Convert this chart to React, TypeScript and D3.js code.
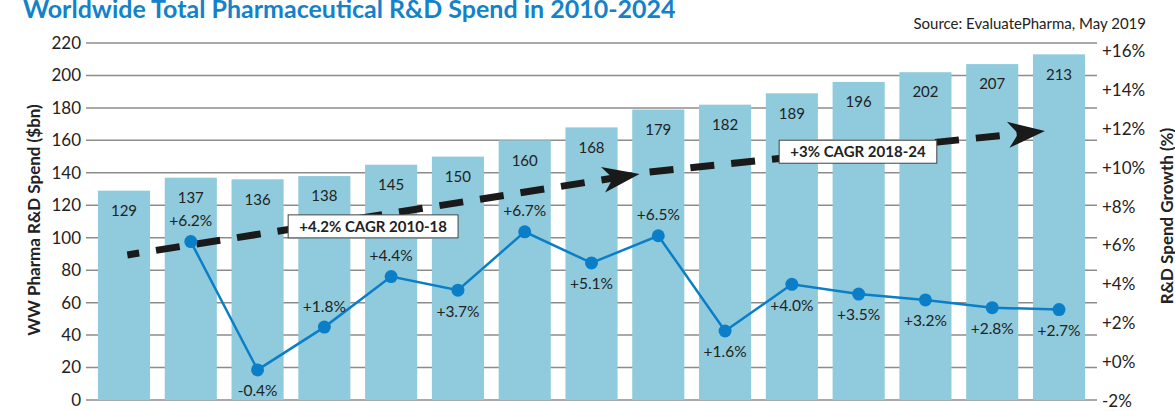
import { useEffect, useRef } from 'react'
import * as d3 from 'd3'

const WIDTH = 1175
const HEIGHT = 411
const FONT = 'Lato, "Open Sans", sans-serif'

const BAR_COLOR = '#8fcbdd'
const LINE_COLOR = '#0a7fc8'
const TITLE_COLOR = '#1382c9'
const GRID_COLOR = '#8c8c8c'
const TEXT_COLOR = '#222'

// Data
const years = [2010, 2011, 2012, 2013, 2014, 2015, 2016, 2017, 2018, 2019, 2020, 2021, 2022, 2023, 2024]
const spend = [129, 137, 136, 138, 145, 150, 160, 168, 179, 182, 189, 196, 202, 207, 213]
const growthYears = [2011, 2012, 2013, 2014, 2015, 2016, 2017, 2018, 2019, 2020, 2021, 2022, 2023, 2024]
const growth = [6.2, -0.4, 1.8, 4.4, 3.7, 6.7, 5.1, 6.5, 1.6, 4.0, 3.5, 3.2, 2.8, 2.7]
const growthLabelAbove = [true, false, true, true, false, true, false, true, false, false, false, false, false, false]

const spendTicks = [0, 20, 40, 60, 80, 100, 120, 140, 160, 180, 200, 220]
const growthTicks = [-2, 0, 2, 4, 6, 8, 10, 12, 14, 16]

// CAGR trend arrows (year, $bn) and their labels
const cagrLabels = ['+4.2% CAGR 2010-18', '+3% CAGR 2018-24']
const cagrStart = [[2010.05, 89.4], [2017.87, 140.5]]
const cagrEnd = [[2017.72, 139.3], [2023.79, 165.8]]
const cagrLabelAt = [[2013.73, 107], [2020.99, 153]]

function App() {
  const svgRef = useRef<SVGSVGElement | null>(null)

  useEffect(() => {
    if (!svgRef.current) return
    const svg = d3.select(svgRef.current)
    svg.selectAll('*').remove()

    const x = d3.scaleBand<number>()
      .domain(years)
      .range([90.6, 1092.4])
      .paddingInner(0.22)
      .paddingOuter(0.11)
    const bw = x.bandwidth()
    const xYear = d3.scaleLinear()
      .domain([2010, 2024])
      .range([x(2010)! + bw / 2, x(2024)! + bw / 2])

    const y = d3.scaleLinear().domain([0, 220]).range([400, 43])
    const yPct = d3.scaleLinear().domain([-2, 16]).range([401, 51])

    // Title + source
    svg.append('text')
      .attr('x', 23).attr('y', 18)
      .attr('font-family', FONT).attr('font-weight', 700).attr('font-size', 25)
      .attr('fill', TITLE_COLOR)
      .text('Worldwide Total Pharmaceutical R&D Spend in 2010-2024')

    svg.append('text')
      .attr('x', 1146).attr('y', 29)
      .attr('text-anchor', 'end')
      .attr('font-family', FONT).attr('font-size', 15)
      .attr('fill', TEXT_COLOR)
      .text('Source: EvaluatePharma, May 2019')

    // Gridlines (also act as tick marks on both sides)
    svg.append('g')
      .selectAll('line')
      .data(spendTicks)
      .join('line')
      .attr('x1', 86).attr('x2', 1097)
      .attr('y1', d => y(d)).attr('y2', d => y(d))
      .attr('stroke', GRID_COLOR)
      .attr('stroke-width', 1.5)

    // Left axis labels
    svg.append('g')
      .selectAll('text')
      .data(spendTicks)
      .join('text')
      .attr('x', 81).attr('y', d => y(d))
      .attr('dy', '0.35em')
      .attr('text-anchor', 'end')
      .attr('font-family', FONT).attr('font-size', 17)
      .attr('fill', TEXT_COLOR)
      .text(d => d)

    // Right axis labels
    svg.append('g')
      .selectAll('text')
      .data(growthTicks)
      .join('text')
      .attr('x', 1102).attr('y', d => yPct(d))
      .attr('dy', '0.35em')
      .attr('font-family', FONT).attr('font-size', 17)
      .attr('fill', TEXT_COLOR)
      .text(d => (d >= 0 ? '+' : '') + d + '%')

    // Axis titles
    svg.append('text')
      .attr('transform', 'translate(40, 220) rotate(-90)')
      .attr('text-anchor', 'middle')
      .attr('font-family', FONT).attr('font-weight', 700).attr('font-size', 17)
      .attr('fill', TEXT_COLOR)
      .text('WW Pharma R&D Spend ($bn)')

    svg.append('text')
      .attr('transform', 'translate(1173, 216) rotate(-90)')
      .attr('text-anchor', 'middle')
      .attr('font-family', FONT).attr('font-weight', 700).attr('font-size', 17)
      .attr('fill', TEXT_COLOR)
      .text('R&D Spend Growth (%)')

    // Bars
    svg.append('g')
      .selectAll('rect')
      .data(spend)
      .join('rect')
      .attr('x', (_, i) => x(years[i])!)
      .attr('y', d => y(d))
      .attr('width', bw)
      .attr('height', d => y(0) - y(d))
      .attr('fill', BAR_COLOR)

    svg.append('g')
      .selectAll('text')
      .data(spend)
      .join('text')
      .attr('x', (_, i) => x(years[i])! + bw / 2)
      .attr('y', d => y(d) + 20)
      .attr('dy', '0.35em')
      .attr('text-anchor', 'middle')
      .attr('font-family', FONT).attr('font-size', 15)
      .attr('fill', TEXT_COLOR)
      .text(d => d)

    // CAGR dashed arrows
    const cagr = svg.append('g')
    cagrStart.forEach((s, i) => {
      const e = cagrEnd[i]
      const x0 = xYear(s[0]), y0 = y(s[1])
      const x1 = xYear(e[0]), y1 = y(e[1])
      const angle = Math.atan2(y1 - y0, x1 - x0)
      const back = 26
      cagr.append('line')
        .attr('x1', x0).attr('y1', y0)
        .attr('x2', x1 - Math.cos(angle) * back)
        .attr('y2', y1 - Math.sin(angle) * back)
        .attr('stroke', '#1a1a1a')
        .attr('stroke-width', 7)
        .attr('stroke-dasharray', '24 17')
        .attr('stroke-dashoffset', i === 0 ? 12 : 0)
      cagr.append('path')
        .attr('d', 'M0,0 L-37,-13 L-27,0 L-37,13 Z')
        .attr('transform', `translate(${x1},${y1}) rotate(${(angle * 180) / Math.PI})`)
        .attr('fill', '#1a1a1a')
    })

    cagrLabels.forEach((label, i) => {
      const [yr, v] = cagrLabelAt[i]
      const g = cagr.append('g')
        .attr('transform', `translate(${xYear(yr)},${y(v)})`)
      const rect = g.append('rect').attr('fill', '#fff').attr('stroke', '#444').attr('stroke-width', 1)
      const t = g.append('text')
        .attr('text-anchor', 'middle')
        .attr('dy', '0.35em')
        .attr('font-family', FONT).attr('font-weight', 700).attr('font-size', 15)
        .attr('fill', TEXT_COLOR)
        .text(label)
      const bb = (t.node() as SVGTextElement).getBBox()
      const w = bb.width + 22
      rect.attr('x', -w / 2).attr('y', -11.5).attr('width', w).attr('height', 23)
    })

    // Growth line
    const line = d3.line<number>()
      .x((_, i) => xYear(growthYears[i]))
      .y(d => yPct(d))

    svg.append('path')
      .datum(growth)
      .attr('d', line)
      .attr('fill', 'none')
      .attr('stroke', LINE_COLOR)
      .attr('stroke-width', 2.5)

    svg.append('g')
      .selectAll('circle')
      .data(growth)
      .join('circle')
      .attr('cx', (_, i) => xYear(growthYears[i]))
      .attr('cy', d => yPct(d))
      .attr('r', 6.5)
      .attr('fill', LINE_COLOR)

    svg.append('g')
      .selectAll('text')
      .data(growth)
      .join('text')
      .attr('x', (_, i) => xYear(growthYears[i]))
      .attr('y', (d, i) => yPct(d) + (growthLabelAbove[i] ? -21 : 21))
      .attr('dy', '0.35em')
      .attr('text-anchor', 'middle')
      .attr('font-family', FONT).attr('font-size', 15.5)
      .attr('fill', TEXT_COLOR)
      .text(d => (d > 0 ? '+' : '') + d.toFixed(1) + '%')
  }, [])

  return (
    <svg
      ref={svgRef}
      width={WIDTH}
      height={HEIGHT}
      style={{ position: 'absolute', left: 0, top: 0, background: '#fff' }}
    />
  )
}

export default App
